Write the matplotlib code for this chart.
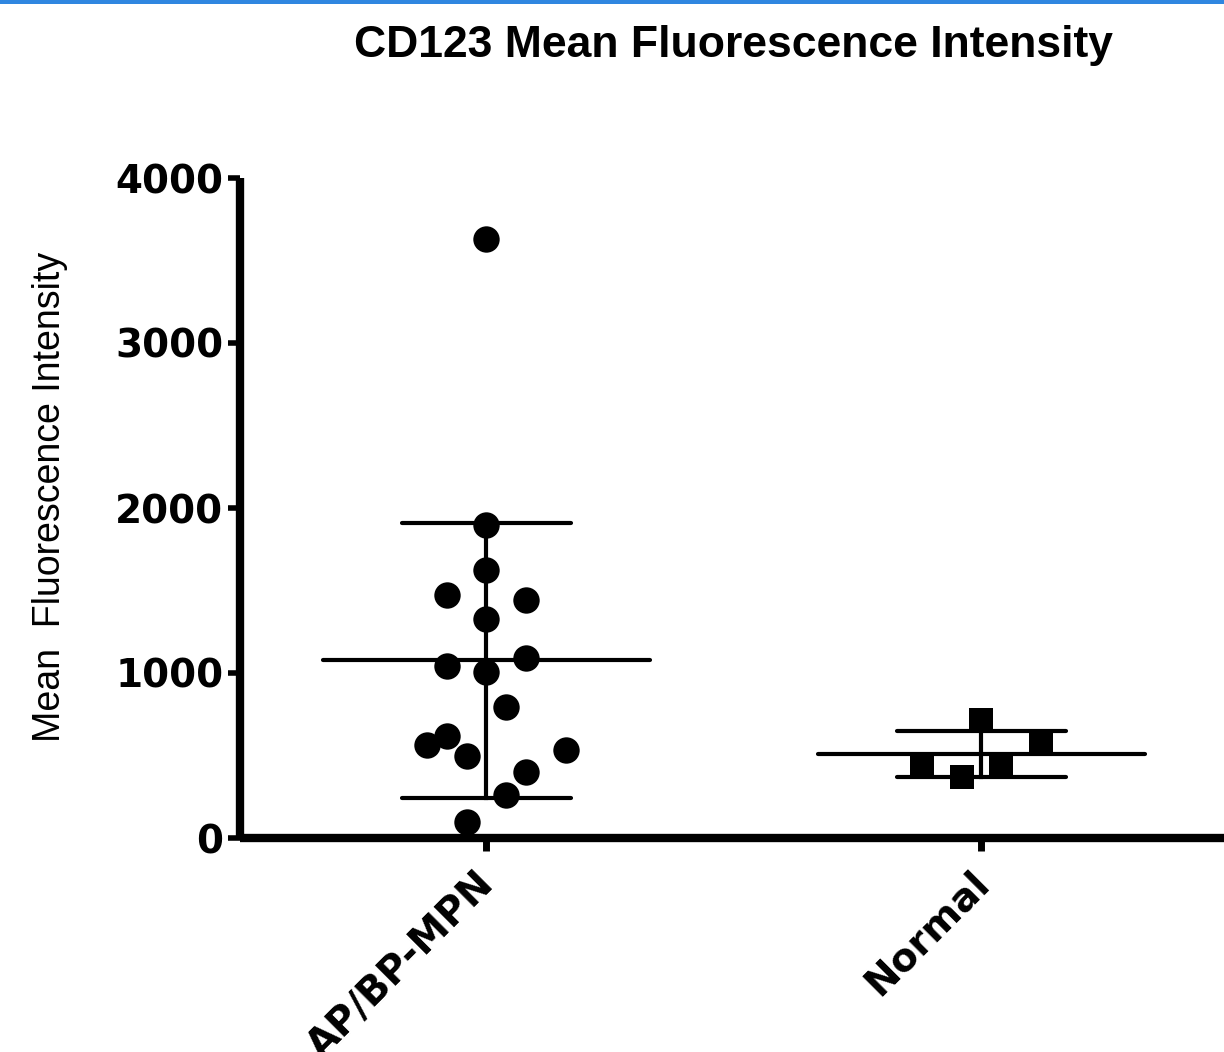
import numpy as np
import matplotlib
matplotlib.use("Agg")
import matplotlib.pyplot as plt
from matplotlib.patches import Rectangle
from matplotlib.transforms import ScaledTranslation

# ---- data ----
categories = ["AP/BP-MPN", "Normal"]
ap_values = [3630, 1900, 1624, 1470, 1442, 1330, 1040, 1006, 1088, 791,
             621, 561, 494, 533, 400, 261, 97]
ap_jitter = [0, 0, 0, -2, 2, 0, -2, 0, 2, 1, -2, -3, -1, 4, 2, 1, -1]
normal_values = [715, 576, 442, 370, 442]
normal_jitter = [0, 3, -3, -1, 1]
yticks = [0, 1000, 2000, 3000, 4000]

title = "CD123 Mean Fluorescence Intensity"
ylabel = "Mean  Fluorescence Intensity"

# ---- figure ----
W, H = 1224, 1052
fig = plt.figure(figsize=(W / 100, H / 100), dpi=100)
fig.patch.set_facecolor("white")
fig.patches.append(Rectangle((0, 1 - 4 / H), 1, 4 / H, transform=fig.transFigure,
                             facecolor="#2f86e0", edgecolor="none"))

ax = fig.add_axes([240 / W, 1 - 838 / H, 1 - 240 / W, (838 - 178) / H])
ax.set_xlim(-0.498, 1.49)
ax.set_ylim(0, 4000)

slot = 20 / 496.0
groups = [(ap_values, ap_jitter, "o", 19), (normal_values, normal_jitter, "s", 17)]
for i, (vals, jit, mk, ms) in enumerate(groups):
    vals = np.asarray(vals, float)
    m = vals.mean()
    sd = vals.std(ddof=1)
    lw = 3.0
    ax.plot([i - 0.33, i + 0.33], [m, m], color="black", lw=lw, solid_capstyle="round", zorder=2)
    ax.plot([i, i], [m - sd, m + sd], color="black", lw=lw, zorder=2)
    for yy in (m - sd, m + sd):
        ax.plot([i - 0.17, i + 0.17], [yy, yy], color="black", lw=lw,
                solid_capstyle="round", zorder=2)
    xs = i + np.asarray(jit) * slot
    ax.plot(xs, vals, linestyle="none", marker=mk, ms=ms, color="black",
            markeredgewidth=0, zorder=3, clip_on=False)

for s in ("top", "right"):
    ax.spines[s].set_visible(False)
for s in ("left", "bottom"):
    ax.spines[s].set_linewidth(6)
    ax.spines[s].set_capstyle("butt")

ax.set_yticks(yticks)
ax.set_yticklabels([str(t) for t in yticks], fontfamily="DejaVu Sans",
                   fontweight="bold", fontsize=28)
ax.set_xticks([0, 1])
ax.set_xticklabels(categories, fontfamily="DejaVu Sans", fontweight="bold",
                   fontsize=28, rotation=45, ha="right", va="top",
                   rotation_mode="anchor")
ax.tick_params(axis="y", direction="out", length=9, width=4, pad=3)
ax.tick_params(axis="x", direction="out", length=9, width=5, pad=6)
for lab in ax.get_xticklabels():
    lab.set_transform(lab.get_transform() + ScaledTranslation(-0.12, -0.05, fig.dpi_scale_trans))

fig.text(734 / W, 1 - 46 / H, title, ha="center", va="center",
         fontfamily="Liberation Sans", fontweight="bold", fontsize=32)
fig.text(50 / W, 1 - 497 / H, ylabel, ha="center", va="center", rotation=90,
         fontfamily="Liberation Sans", fontsize=27)

fig.savefig("out.png", dpi=100, facecolor="white")
